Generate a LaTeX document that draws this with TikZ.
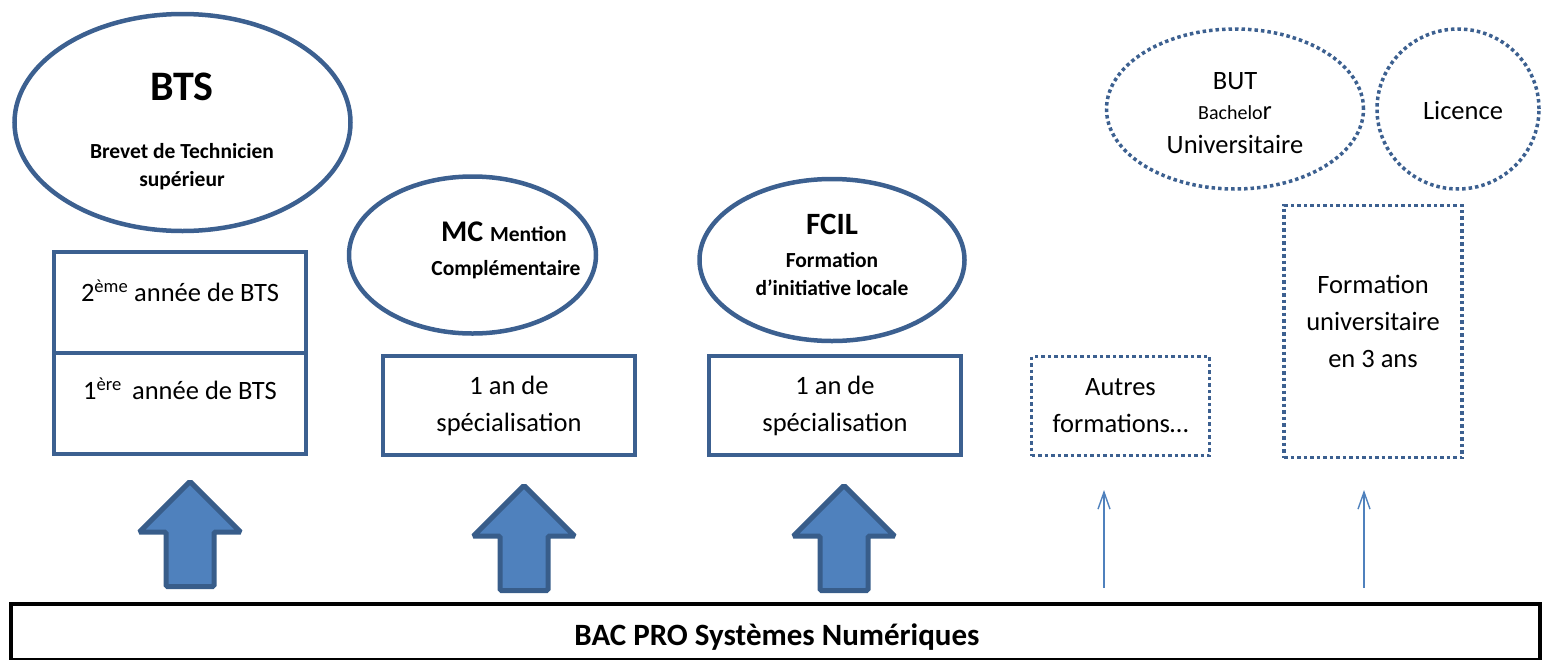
\documentclass[tikz,border=0pt]{standalone}
\usepackage{fontspec}
\setmainfont{Carlito}
\usetikzlibrary{shapes.geometric,arrows.meta}
\definecolor{edge}{HTML}{3C6090}
\definecolor{afill}{HTML}{4F81BD}
\definecolor{aedge}{HTML}{385D8A}
\tikzset{
  oval/.style={ellipse, draw=edge, line width=4.5pt, inner sep=0pt},
  dotoval/.style={ellipse, draw=edge, line width=3.5pt, dash pattern=on 3.5pt off 3pt, inner sep=0pt},
  solidbox/.style={rectangle, draw=edge, line width=4pt, inner sep=0pt},
  dotbox/.style={rectangle, draw=edge, line width=3.5pt, dash pattern=on 3.5pt off 3pt, inner sep=0pt},
  txt/.style={inner sep=0pt, align=center, font=\fontsize{26.5}{37}\selectfont},
  btxt/.style={inner sep=0pt, align=center, font=\bfseries\fontsize{21.5}{28}\selectfont},
  thinarrow/.style={draw=afill, line width=1.4pt, -{Straight Barb[length=17pt,width=12pt]}},
  bigarrow/.pic={\draw[fill=afill, draw=aedge, line width=5pt, rounded corners=1.5pt]
     (-24,-2.5) -- (-24,-57) -- (-50.5,-57) -- (0,-107.5) -- (50.5,-57) -- (24,-57) -- (24,-2.5) -- cycle;}
}
\begin{document}
\begin{tikzpicture}[x=1pt,y=-1pt]
\useasboundingbox (0,0) rectangle (1547,659);
% ellipses
\node[oval, minimum width=336, minimum height=217] (bts) at (182.5,122.5) {};
\node[inner sep=0pt, font=\bfseries\fontsize{42}{42}\selectfont] (btst) at (182,87) {BTS};
\node[btxt] (btsl) at (182,167) {Brevet de Technicien\\supérieur};
\node[oval, minimum width=247, minimum height=157] (mc) at (472.5,255) {};
\node[inner sep=0pt] (mct) at (504,232) {\bfseries\fontsize{30}{30}\selectfont MC \fontsize{21.5}{21.5}\selectfont Mention};
\node[btxt] (mcl) at (506,270) {Complémentaire};
\node[oval, minimum width=265, minimum height=162] (fcil) at (832,260) {};
\node[inner sep=0pt, font=\bfseries\fontsize{31}{31}\selectfont] (fcilt) at (832,224) {FCIL};
\node[btxt] (fcill) at (832,274) {Formation\\d’initiative locale};
\node[dotoval, minimum width=257, minimum height=160] (but) at (1235,109) {};
\node[txt] (butt) at (1235,81) {BUT};
\node[inner sep=0pt] (butb) at (1235,113) {\fontsize{20}{20}\selectfont Bachelo\fontsize{26.5}{26.5}\selectfont r};
\node[txt] (butu) at (1235,144) {Universitaire};
\node[dotoval, minimum width=162, minimum height=160] (lic) at (1458,109) {};
\node[txt] (lict) at (1463,110) {Licence};
% boxes
\node[solidbox, minimum width=252, minimum height=101] (bts2) at (180,302.5) {};
\node[solidbox, minimum width=252, minimum height=101] (bts1) at (180,403.5) {};
\node[txt] (bts2t) at (180,291) {2\textsuperscript{ème} année de BTS};
\node[txt] (bts1t) at (180,389) {1\textsuperscript{ère}\, année de BTS};
\node[solidbox, minimum width=252, minimum height=99, txt] (mcbox) at (509,405.5) {1 an de\\spécialisation};
\node[solidbox, minimum width=252, minimum height=99, txt] (fcilbox) at (835,405.5) {1 an de\\spécialisation};
\node[dotbox, minimum width=178, minimum height=99, txt] (autres) at (1120.5,406) {Autres\\formations…};
\node[dotbox, minimum width=178, minimum height=252] (univ) at (1373,331.5) {};
\node[txt] (univt) at (1373,321) {Formation\\universitaire\\en 3 ans};
% base
\node[rectangle, draw=black, line width=4pt, minimum width=1529, minimum height=56, inner sep=0pt] (bac) at (775.5,632) {};
\node[inner sep=0pt, font=\bfseries\fontsize{31}{31}\selectfont] (bact) at (777,637) {BAC PRO Systèmes Numériques};
% arrows
\pic at (190,589) {bigarrow};
\pic at (524,593) {bigarrow};
\pic at (844,593) {bigarrow};
\coordinate (a4s) at (1104,588);
\coordinate (a4e) at (1104,490);
\coordinate (a5s) at (1364,588);
\coordinate (a5e) at (1364,490);
\draw[thinarrow] (a4s) -- (a4e);
\draw[thinarrow] (a5s) -- (a5e);
\end{tikzpicture}
\end{document}
